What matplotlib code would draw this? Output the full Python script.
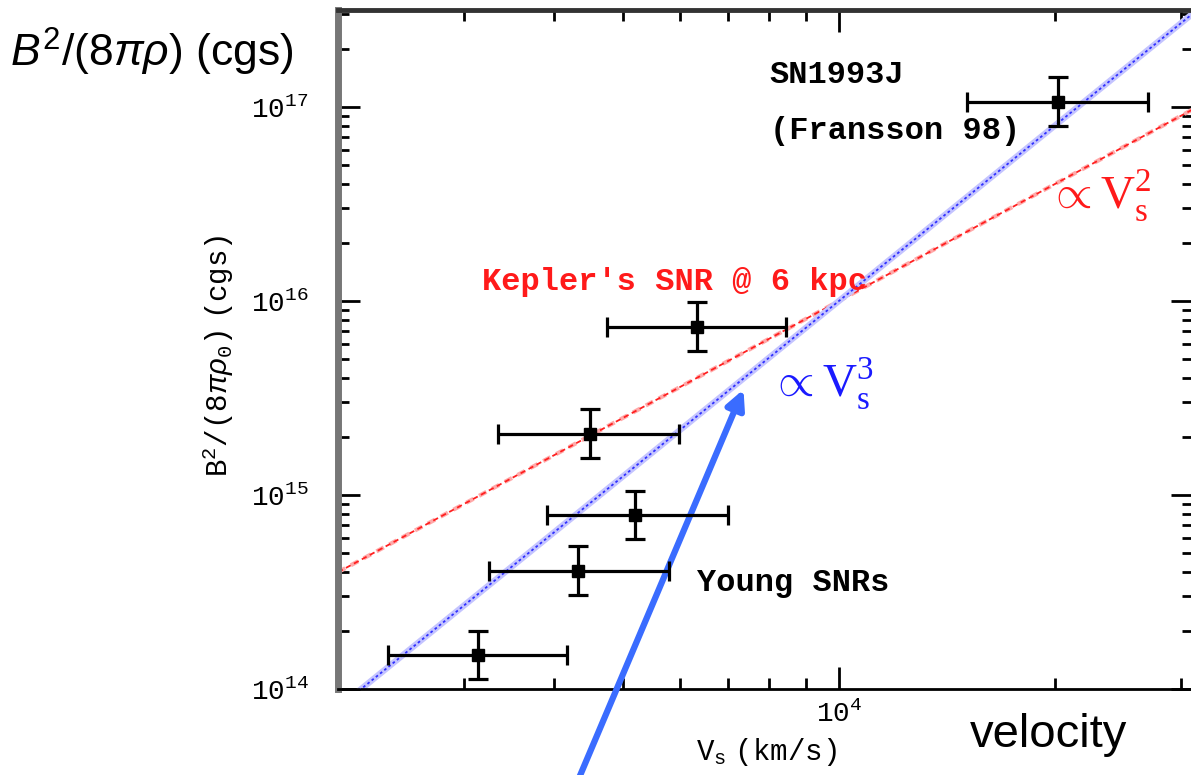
import numpy as np
import matplotlib
matplotlib.use('Agg')
import matplotlib.pyplot as plt
from matplotlib.ticker import FixedLocator, NullFormatter

plt.rcParams['mathtext.fontset'] = 'custom'
plt.rcParams['mathtext.rm'] = 'Liberation Serif'
plt.rcParams['mathtext.it'] = 'Liberation Sans:italic'
plt.rcParams['mathtext.sf'] = 'Liberation Sans'
plt.rcParams['mathtext.tt'] = 'Liberation Mono'

# shock velocity (km/s) with lower/upper error limits
vs = [20200, 6330, 4500, 5200, 4330, 3140]
vs_lo = [15100, 4740, 3345, 3920, 3250, 2350]
vs_hi = [27000, 8430, 5975, 6995, 5785, 4180]
# B^2/(8 pi rho0) in cgs with lower/upper limits
b2 = [1.06e17, 7.35e15, 2.06e15, 7.9e14, 4.06e14, 1.50e14]
b2_lo = [7.98e16, 5.53e15, 1.55e15, 5.93e14, 3.05e14, 1.13e14]
b2_hi = [1.43e17, 9.9e15, 2.77e15, 1.05e15, 5.46e14, 1.99e14]

# power-law guides, both normalised at (1e4 km/s, 1e16)
v_ref, b_ref = 1e4, 1e16
v_line = np.array([2000, 31200])

x_major = [1e4]
x_minor = [2000, 3000, 4000, 5000, 6000, 7000, 8000, 9000, 2e4, 3e4]
y_major = [1e14, 1e15, 1e16, 1e17]
y_minor = [m * 10**e for e in (14, 15, 16, 17) for m in range(2, 10)]

fig = plt.figure(figsize=(11.91, 7.75), dpi=100)
ax = fig.add_axes([338/1191, 1 - 689/775, 855/1191, 679/775])
ax.set_xscale('log')
ax.set_yscale('log')
ax.set_xlim(2000, 31200)
ax.set_ylim(1e14, 10**17.5)

# guide lines
ax.plot(v_line, b_ref*(v_line/v_ref)**2, color='#ffaaaa', lw=3, dashes=(2, 1.5), zorder=2)
ax.plot(v_line, b_ref*(v_line/v_ref)**2, color='#ff2020', lw=1.3, dashes=(3, 2), zorder=2)
ax.plot(v_line, b_ref*(v_line/v_ref)**3, color='#c4c4ff', lw=4.5, zorder=2)
ax.plot(v_line, b_ref*(v_line/v_ref)**3, color='#3030ff', lw=1.3, dashes=(1.5, 1.5), zorder=3)

xerr = [np.array(vs) - np.array(vs_lo), np.array(vs_hi) - np.array(vs)]
yerr = [np.array(b2) - np.array(b2_lo), np.array(b2_hi) - np.array(b2)]
ax.errorbar(vs, b2, xerr=xerr, yerr=yerr, fmt='s', color='black', ms=8,
            elinewidth=2.3, capsize=7, capthick=2.3, zorder=4)

# ticks
ax.xaxis.set_major_locator(FixedLocator(x_major))
ax.xaxis.set_minor_locator(FixedLocator(x_minor))
ax.yaxis.set_major_locator(FixedLocator(y_major))
ax.yaxis.set_minor_locator(FixedLocator(y_minor))
ax.set_xticklabels([r'$\mathtt{10^{4}}$'])
ax.set_yticklabels([r'$\mathtt{10^{%d}}$' % e for e in (14, 15, 16, 17)])
ax.xaxis.set_minor_formatter(NullFormatter())
ax.yaxis.set_minor_formatter(NullFormatter())
ax.tick_params(which='both', direction='in', top=True, right=True, width=2, colors='black')
ax.tick_params(which='major', length=16, labelsize=20)
ax.tick_params(which='minor', length=8)
ax.tick_params(axis='y', which='major', pad=21)
ax.tick_params(axis='x', which='major', pad=8)

ax.spines['left'].set_color('#777777')
ax.spines['left'].set_linewidth(5)
ax.spines['top'].set_color('#333333')
ax.spines['top'].set_linewidth(3.5)
ax.spines['bottom'].set_linewidth(2)
ax.spines['right'].set_visible(False)

mono = dict(family='Liberation Mono', fontweight='bold', fontsize=23)
ax.text(0.505, 0.905, 'SN1993J', transform=ax.transAxes, va='center', **mono)
ax.text(0.505, 0.822, '(Fransson 98)', transform=ax.transAxes, va='center', **mono)
ax.text(0.169, 0.6, "Kepler's SNR @ 6 kpc", transform=ax.transAxes, va='center',
        color='#ff1a1a', **mono)
ax.text(0.42, 0.156, 'Young SNRs', transform=ax.transAxes, va='center', **mono)
ax.text(0.83, 0.727, r'$\propto\mathrm{V}_\mathrm{s}^2$', transform=ax.transAxes,
        va='center', color='#ff1a1a', fontsize=34)
ax.text(0.505, 0.45, r'$\propto\mathrm{V}_\mathrm{s}^3$', transform=ax.transAxes,
        va='center', color='#1a1aff', fontsize=34)

fig.text(766/1191, 1 - 752/775, r'$\mathtt{V_s\ (km/s)}$', ha='center', va='center',
         fontsize=21)
fig.text(218/1191, 1 - 356/775, r'$\mathtt{B^2/(8}\pi\rho_\mathtt{0}\mathtt{)\ (cgs)}$',
         rotation=90, ha='center', va='center', fontsize=21)

fig.text(10/1191, 1 - 52/775, r'$\mathit{B}^\mathsf{2}\mathsf{/(8}\pi\rho\mathsf{)\ (cgs)}$',
         ha='left', va='center', fontsize=32)
fig.text(970/1191, 1 - 735/775, 'velocity', family='Liberation Sans', ha='left',
         va='center', fontsize=34)

# pointer arrow towards the V^3 line
ax.annotate('', xy=(7360, 3.5e15), xycoords='data', xytext=(577/1191, -0.01),
            textcoords='figure fraction', annotation_clip=False,
            arrowprops=dict(arrowstyle='-|>', color='#3a6cff', lw=4.5,
                            mutation_scale=28, shrinkA=0, shrinkB=0))

fig.savefig('out.png', dpi=100)
